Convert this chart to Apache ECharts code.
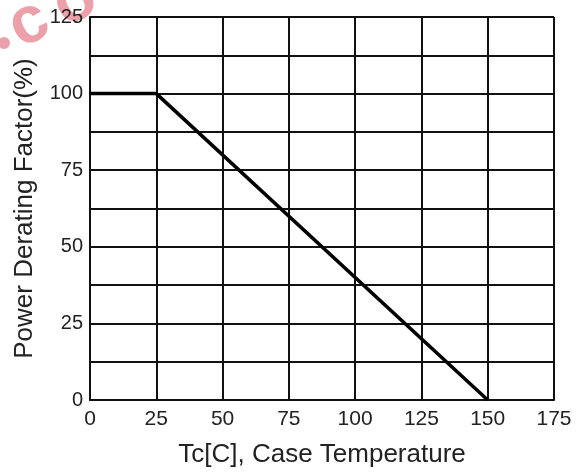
<!DOCTYPE html>
<html>
<head>
<meta charset="utf-8">
<script src="https://cdn.jsdelivr.net/npm/echarts@6/dist/echarts.min.js"></script>
<style>html,body{margin:0;padding:0;background:#fff;}#c{width:584px;height:473px;}</style>
</head>
<body>
<div id="c"></div>
<script>
const temperature = [0, 25, 150];
const deratingFactor = [100, 100, 0];
const xTickLabels = ['0','25','50','75','100','125','150','175'];
const yTickLabels = ['0','25','50','75','100','125'];

const chart = echarts.init(document.getElementById('c'), null, {renderer:'canvas'});
const font = '"Liberation Sans", Arial, sans-serif';
const wmFill = 'rgba(230,130,142,0.75)';
const rot = Math.PI * 27 / 180;
const wmStyle = (t) => ({text: t, fontSize: 66, fontWeight: 'bold', fontFamily: font, fill: wmFill, align: 'center', verticalAlign: 'middle'});
chart.setOption({
  animation: false,
  backgroundColor: '#fff',
  grid: {left: 90, right: 30, top: 17, bottom: 72, containLabel: false},
  xAxis: {
    type: 'value', min: 0, max: 175, interval: 25,
    name: 'Tc[C], Case Temperature', nameLocation: 'middle', nameGap: 42,
    nameTextStyle: {fontFamily: font, fontSize: 26, color: '#222'},
    axisLine: {show: true, lineStyle: {color: '#111', width: 2}},
    axisTick: {show: false},
    axisLabel: {fontFamily: font, fontSize: 21, color: '#222', margin: 9,
      formatter: v => xTickLabels.includes(String(v)) ? String(v) : ''},
    splitLine: {show: true, lineStyle: {color: '#111', width: 2}}
  },
  yAxis: {
    type: 'value', min: 0, max: 125, interval: 12.5,
    name: 'Power Derating Factor(%)', nameLocation: 'middle', nameGap: 52,
    nameTextStyle: {fontFamily: font, fontSize: 26, color: '#222'},
    axisLine: {show: true, lineStyle: {color: '#111', width: 2}},
    axisTick: {show: false},
    axisLabel: {fontFamily: font, fontSize: 20, color: '#222', margin: 7,
      formatter: v => yTickLabels.includes(String(v)) ? String(v) : ''},
    splitLine: {show: true, lineStyle: {color: '#111', width: 2}}
  },
  series: [{
    type: 'line',
    data: temperature.map((t, i) => [t, deratingFactor[i]]),
    showSymbol: false,
    lineStyle: {color: '#000', width: 3.5},
    z: 5
  }],
  graphic: [
    {type: 'circle', shape: {cx: 4, cy: 43, r: 6}, style: {fill: wmFill}, z: -1},
    {type: 'text', x: 29, y: 24, rotation: rot, style: wmStyle('c'), z: -1},
    {type: 'text', x: 75, y: 2, rotation: rot, style: wmStyle('o'), z: -1}
  ]
});
</script>
</body>
</html>
